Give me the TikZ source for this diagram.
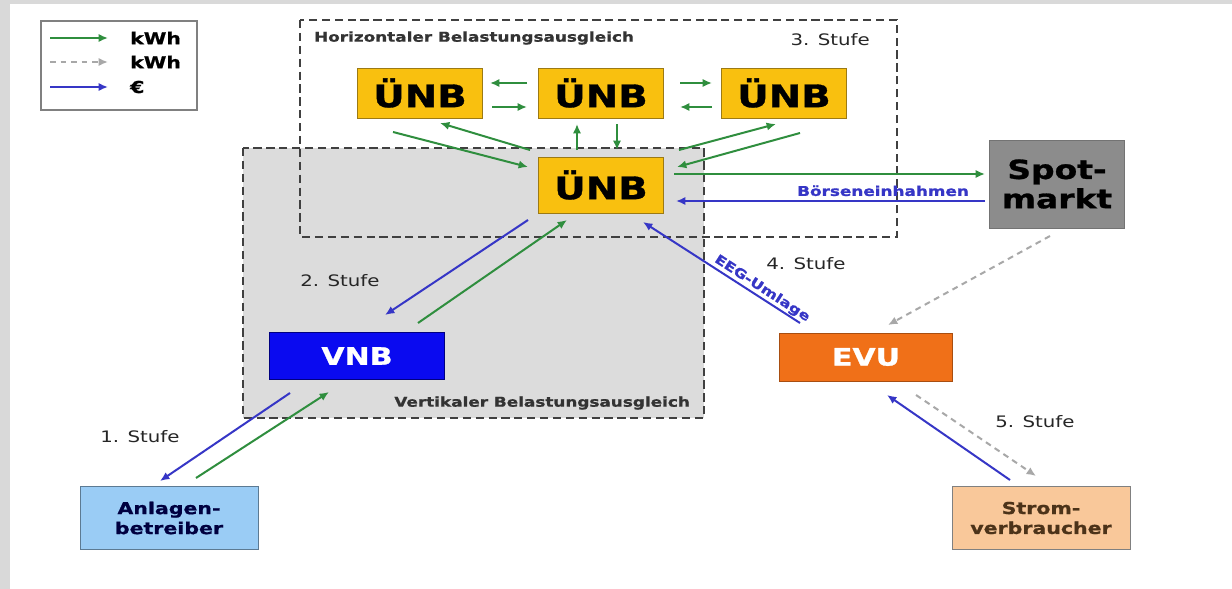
\documentclass[tikz,border=0pt]{standalone}
\usepackage{fontspec}
\setmainfont{DejaVu Sans}[FakeStretch=1.25, BoldFeatures={FakeBold=1}]
\usetikzlibrary{positioning,arrows.meta,calc}
\definecolor{uenbgelb}{HTML}{F9C00F}
\definecolor{uenbrand}{HTML}{9C7A14}
\definecolor{spotgrau}{HTML}{8C8C8C}
\definecolor{vnbblau}{HTML}{0A0AF0}
\definecolor{evuorange}{HTML}{F07018}
\definecolor{anlblau}{HTML}{9ACCF5}
\definecolor{stromhaut}{HTML}{F9C89A}
\definecolor{kwhgruen}{HTML}{2F8E3E}
\definecolor{eurblau}{HTML}{3636C6}
\definecolor{kwhgrau}{HTML}{A8A8A8}
\definecolor{flaeche}{HTML}{DCDCDC}

\begin{document}
\begin{tikzpicture}[x=0.03cm,y=-0.03cm,
  box/.style={draw, line width=0.8pt, align=center, inner sep=0pt},
  uenb/.style={box, fill=uenbgelb, draw=uenbrand, minimum width=3.75cm, minimum height=1.5cm, font=\bfseries\fontsize{26.5}{28}\selectfont},
  grn/.style={draw=kwhgruen, line width=1.7pt, -{Latex[length=8pt,width=7pt]}},
  blu/.style={draw=eurblau, line width=1.7pt, -{Latex[length=8pt,width=7pt]}},
  gry/.style={draw=kwhgrau, line width=1.7pt, dash pattern=on 5pt off 4pt, -{Latex[length=8pt,width=7pt]}},
  stufe/.style={font=\fontsize{13.5}{15}\selectfont, text=black!85},
  titel/.style={font=\bfseries\fontsize{11.5}{13}\selectfont, text=black!80},
  rahmen/.style={draw=black!75, line width=2pt, dash pattern=on 7pt off 4pt}
]
\useasboundingbox (0,0) rectangle (1232,589);
\fill[black!15] (0,0) rectangle (1232,589);
\fill[white] (10,4) rectangle (1232,589);

% Belastungsausgleich
\draw[rahmen, fill=flaeche] (243,148) rectangle (704,418);
\draw[rahmen] (300,20) rectangle (897,237);
\node[titel, anchor=west] at (310,38) {Horizontaler Belastungsausgleich};
\node[stufe, anchor=east] at (874,40) {3. Stufe};
\node[titel, anchor=east] at (694,403) {Vertikaler Belastungsausgleich};

% Boxen
\node[uenb] (u1) at (420,93) {ÜNB};
\node[uenb] (u2) at (601,93) {ÜNB};
\node[uenb] (u3) at (784,93) {ÜNB};
\node[uenb, minimum height=1.68cm] (u0) at (601,185) {ÜNB};
\node[box, fill=spotgrau, draw=black!55, minimum width=4.05cm, minimum height=2.64cm, font=\bfseries\fontsize{22.5}{25}\selectfont] (spot) at (1057,184) {Spot-\\markt};
\node[box, fill=vnbblau, draw=blue!50!black, text=white, minimum width=5.25cm, minimum height=1.41cm, font=\bfseries\fontsize{20.5}{23}\selectfont] (vnb) at (357,356) {VNB};
\node[box, fill=evuorange, draw=evuorange!70!black, text=white, minimum width=5.19cm, minimum height=1.44cm, font=\bfseries\fontsize{20.5}{23}\selectfont] (evu) at (866,357) {EVU};
\node[box, fill=anlblau, draw=anlblau!60!black, text=blue!25!black, minimum width=5.34cm, minimum height=1.89cm, font=\bfseries\fontsize{14}{17}\selectfont] (anl) at (169,518) {Anlagen-\\betreiber};
\node[box, fill=stromhaut, draw=black!50, text=brown!40!black, minimum width=5.34cm, minimum height=1.89cm, font=\bfseries\fontsize{14}{17}\selectfont] (strom) at (1041,518) {Strom-\\verbraucher};

% 3. Stufe
\draw[grn] ($(u2)+(-74,-10)$) -- ($(u1)+(70,-10)$);
\draw[grn] ($(u1)+(72,14)$) -- ($(u2)+(-74,14)$);
\draw[grn] ($(u2)+(79,-10)$) -- ($(u3)+(-72,-10)$);
\draw[grn] ($(u3)+(-72,14)$) -- ($(u2)+(79,14)$);
\draw[grn] ($(u0)+(-71,-35)$) -- ($(u1)+(20,30)$);
\draw[grn] ($(u1)+(-27,39)$) -- ($(u0)+(-73,-18)$);
\draw[grn] ($(u0)+(-24,-35)$) -- ($(u2)+(-24,31)$);
\draw[grn] ($(u2)+(16,31)$) -- ($(u0)+(16,-35)$);
\draw[grn] ($(u0)+(78,-35)$) -- ($(u3)+(-8,31)$);
\draw[grn] ($(u3)+(16,40)$) -- ($(u0)+(76,-18)$);

% Spotmarkt
\draw[grn] ($(u0)+(73,-11)$) -- ($(spot)+(-72,-10)$);
\draw[blu] ($(spot)+(-72,17)$) -- ($(u0)+(75,16)$)
  node[pos=0.33, above=0pt, text=eurblau, font=\bfseries\fontsize{11.5}{13}\selectfont] {Börseneinhahmen};

% 2. Stufe
\draw[blu] ($(u0)+(-73,35)$) -- ($(vnb)+(28,-41)$);
\draw[grn] ($(vnb)+(61,-33)$) -- ($(u0)+(-34,35)$);
\node[stufe] at (340,281) {2. Stufe};

% 4. Stufe
\draw[blu] ($(evu)+(-66,-34)$) -- ($(u0)+(42,37)$)
  node[pos=0.27, rotate=-33, anchor=south, inner sep=1pt, text=eurblau, font=\bfseries\fontsize{11}{13}\selectfont] {EEG-Umlage};
\draw[gry] ($(spot)+(-7,52)$) -- ($(evu)+(22,-32)$);
\node[stufe] at (806,264) {4. Stufe};

% 1. Stufe
\draw[blu] ($(vnb)+(-67,37)$) -- ($(anl)+(-9,-37)$);
\draw[grn] ($(anl)+(27,-40)$) -- ($(vnb)+(-28,36)$);
\node[stufe] at (140,437) {1. Stufe};

% 5. Stufe
\draw[blu] ($(strom)+(-31,-38)$) -- ($(evu)+(21,38)$);
\draw[gry] ($(evu)+(50,38)$) -- ($(strom)+(-5,-42)$);
\node[stufe] at (1035,422) {5. Stufe};

% Legende
\draw[draw=black!50, line width=1.2pt] (41,21) rectangle (197,110);
\node[anchor=west, font=\bfseries\fontsize{14}{16}\selectfont] (k1) at (126,38) {kWh};
\node[anchor=west, font=\bfseries\fontsize{14}{16}\selectfont] (k2) at (126,62) {kWh};
\node[anchor=west, font=\bfseries\fontsize{14}{16}\selectfont] (k3) at (126,87) {€};
\draw[grn] ($(k1.west)+(-76,0)$) -- ($(k1.west)+(-18,0)$);
\draw[gry] ($(k2.west)+(-76,0)$) -- ($(k2.west)+(-18,0)$);
\draw[blu] ($(k3.west)+(-76,0)$) -- ($(k3.west)+(-18,0)$);
\end{tikzpicture}
\end{document}
